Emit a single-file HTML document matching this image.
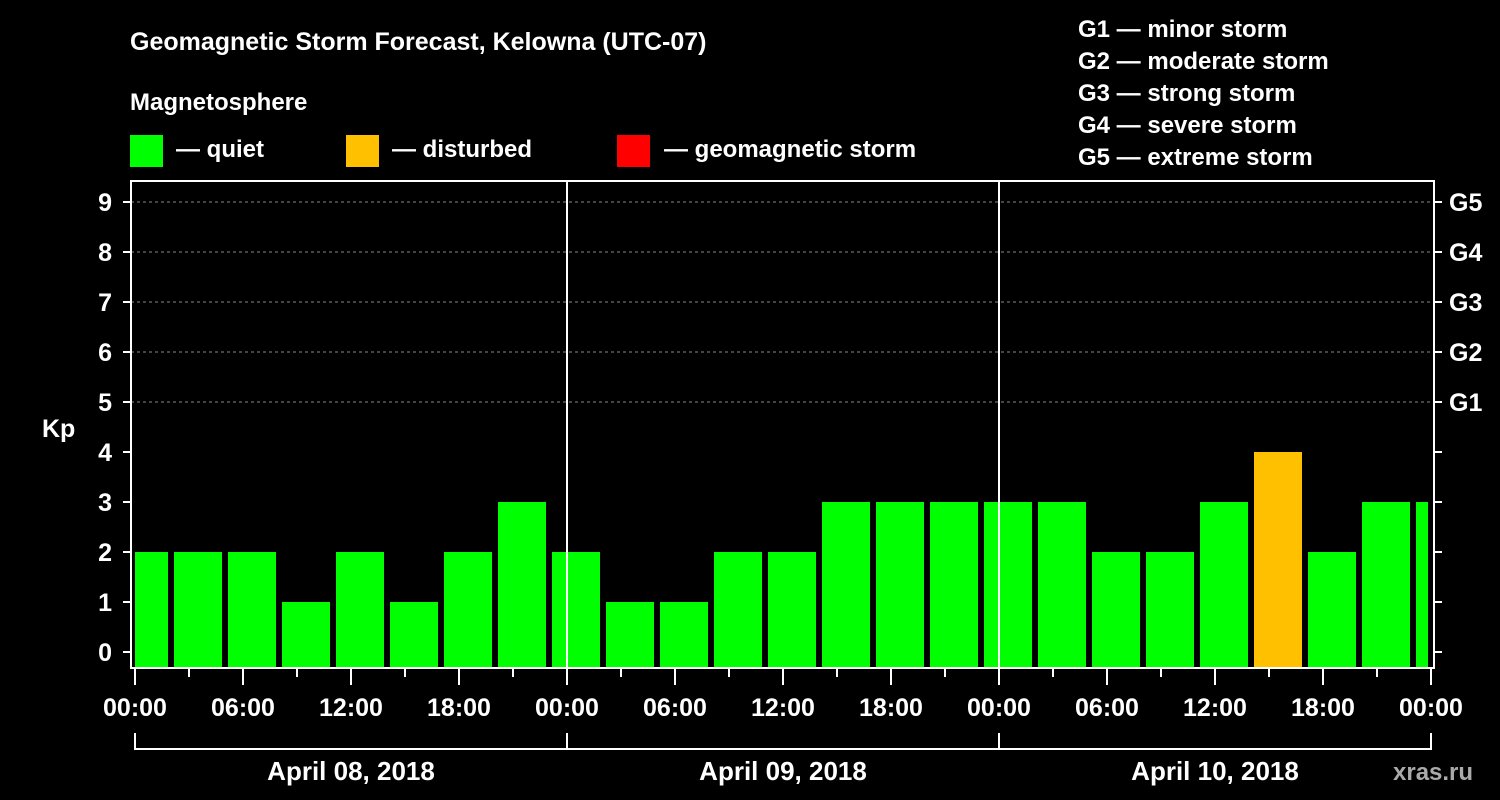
<!DOCTYPE html>
<html><head><meta charset="utf-8"><style>
body{margin:0;background:#000;width:1500px;height:800px;overflow:hidden}
svg{display:block;font-family:"Liberation Sans",Arial,sans-serif;font-weight:bold}
</style></head><body>
<svg id="c" width="1500" height="800">
<text x="130" y="50" fill="#fff" font-size="25">Geomagnetic Storm Forecast, Kelowna (UTC-07)</text>
<text x="130" y="110" fill="#fff" font-size="24">Magnetosphere</text>
<g><rect x="130" y="135" width="33" height="32" fill="#00ff00"/><text x="176" y="157" fill="#fff" font-size="24">— quiet</text></g>
<g><rect x="346" y="135" width="33" height="32" fill="#ffc000"/><text x="392" y="157" fill="#fff" font-size="24">— disturbed</text></g>
<g><rect x="617" y="135" width="33" height="32" fill="#ff0000"/><text x="664" y="157" fill="#fff" font-size="24">— geomagnetic storm</text></g>
<g fill="#fff" font-size="24">
<text x="1078" y="37">G1 — minor storm</text><text x="1078" y="69">G2 — moderate storm</text><text x="1078" y="101">G3 — strong storm</text><text x="1078" y="133">G4 — severe storm</text><text x="1078" y="165">G5 — extreme storm</text></g>
<text x="42" y="437" fill="#fff" font-size="25">Kp</text>
<text x="1393" y="780" fill="#aaa" font-size="24">xras.ru</text>
<g id="plot"></g>
</svg>
<script>
const values=[2,2,2,1,2,1,2,3,2,1,1,2,2,3,3,3,3,3,2,2,3,4,2,3,3];
const dates=["April 08, 2018","April 09, 2018","April 10, 2018"];
const hourLabels=["00:00","06:00","12:00","18:00"];
const gLabels=["G1","G2","G3","G4","G5"];
const NS="http://www.w3.org/2000/svg";
const g=document.getElementById('plot');
const X0=135,PXH=18,L=131,R=1434,T=181,B=668;
const xh=h=>X0+h*PXH;
const yv=v=>652-50*v;
function mk(t,a){const e=document.createElementNS(NS,t);for(const k in a)e.setAttribute(k,a[k]);g.appendChild(e);return e;}
const totalH=dates.length*24;
for(let v=5;v<=9;v++){const e=mk('line',{x1:L,x2:R,y1:yv(v),y2:yv(v),stroke:'#888','stroke-dasharray':'3,3','stroke-width':1});

}
values.forEach((v,i)=>{
 let h0=-1+3*i,h1=h0+3;
 let a=xh(h0)+3,b=xh(h1)-3;
 a=Math.max(a,X0);b=Math.min(b,xh(totalH)-3);
 const col=v>=5?'#ff0000':(v>=4?'#ffc000':'#00ff00');
 const r=mk('rect',{x:a,y:yv(v),width:b-a,height:B-1-yv(v),fill:col});
 
 
});
for(let d=1;d<dates.length;d++){const e=mk('line',{x1:xh(24*d),x2:xh(24*d),y1:T,y2:B,stroke:'#fff','stroke-width':2});

}
const fr=mk('rect',{x:L,y:T,width:R-L,height:B-T,fill:'none',stroke:'#fff','stroke-width':2});


for(let v=0;v<=9;v++){
 mk('line',{x1:123,x2:L,y1:yv(v),y2:yv(v),stroke:'#fff','stroke-width':2});
 mk('line',{x1:R,x2:1442,y1:yv(v),y2:yv(v),stroke:'#fff','stroke-width':2});
 const t=mk('text',{x:112,y:yv(v)+9,fill:'#fff','font-size':25,'text-anchor':'end'});t.textContent=v;
 
 
 if(v>=5){const t2=mk('text',{x:1449,y:yv(v)+9,fill:'#fff','font-size':25});t2.textContent=gLabels[v-5];
 
 }
}
for(let h=0;h<=totalH;h+=3){
 const major=h%6===0;
 mk('line',{x1:xh(h),x2:xh(h),y1:B+1,y2:B+(major?17:9),stroke:'#fff','stroke-width':2});
 if(major){const t=mk('text',{x:xh(h),y:716,fill:'#fff','font-size':25,'text-anchor':'middle'});t.textContent=hourLabels[(h%24)/6];
 
 }
}
mk('line',{x1:xh(0),x2:xh(totalH),y1:749,y2:749,stroke:'#fff','stroke-width':2});
for(let d=0;d<=dates.length;d++)mk('line',{x1:xh(24*d),x2:xh(24*d),y1:733,y2:750,stroke:'#fff','stroke-width':2});
dates.forEach((s,d)=>{const t=mk('text',{x:xh(24*d+12),y:780,fill:'#fff','font-size':26,'text-anchor':'middle'});t.textContent=s;

});
</script>
</body></html>
